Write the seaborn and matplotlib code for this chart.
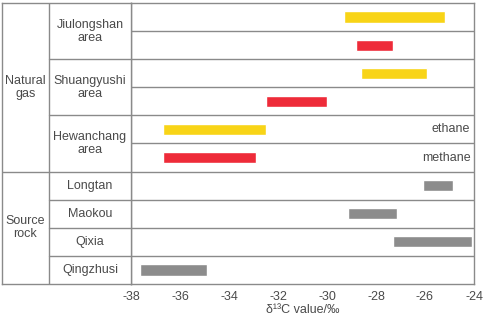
import pandas as pd
import numpy as np
import matplotlib.pyplot as plt
import seaborn as sns

# rows from top to bottom
row_kind = ["ethane", "methane", "ethane", "methane", "ethane", "methane",
            "source", "source", "source", "source"]
row_start = [-29.3, -28.8, -28.6, -32.5, -36.7, -36.7, -26.1, -29.15, -27.3, -37.65]
row_end = [-25.2, -27.3, -25.9, -30.0, -32.5, -32.9, -24.85, -27.15, -24.1, -34.9]

areas = ["Jiulongshan\narea", "Shuangyushi\narea", "Hewanchang\narea"]
rocks = ["Longtan", "Maokou", "Qixia", "Qingzhusi"]
groups = ["Natural\ngas", "Source\nrock"]
xticks = [-38, -36, -34, -32, -30, -28, -26, -24]

colors = {"ethane": "#f8d417", "methane": "#ee2b39", "source": "#8c8c8c"}
line_c = "#8a8a8a"
text_c = "#4a4a4a"

df = pd.DataFrame({"kind": row_kind, "start": row_start, "end": row_end})
df["row"] = np.arange(len(df))

sns.set_theme(style="white")
plt.rcParams["font.family"] = ["Liberation Sans", "DejaVu Sans"]

W, H = 484, 316
fig = plt.figure(figsize=(W / 100, H / 100), dpi=100)
bottom = (H - 284) / H
height = (284 - 3) / H
ax = fig.add_axes([131 / W, bottom, (474 - 131) / W, height])
tab = fig.add_axes([2 / W, bottom, (131 - 2) / W, height])

# floating bars
ax.barh(df["row"], df["end"] - df["start"], left=df["start"], height=0.4,
        color=[colors[k] for k in df["kind"]])
ax.set_xlim(-38, -24)
ax.set_ylim(len(df) - 0.5, -0.5)
ax.set_yticks([])
ax.set_xticks(xticks)
ax.set_xticklabels([str(t) for t in xticks], fontsize=9, color=text_c)
ax.tick_params(axis="x", length=0, pad=5)
for r in range(1, len(df)):
    ax.axhline(r - 0.5, color=line_c, lw=1)
for s in ax.spines.values():
    s.set_color(line_c)
    s.set_linewidth(1)
ax.set_xlabel("δ¹³C value/‰", fontsize=9, color=text_c, labelpad=1)
ax.text(-24.15, 4, "ethane", ha="right", va="center", fontsize=9, color=text_c)
ax.text(-24.15, 5, "methane", ha="right", va="center", fontsize=9, color=text_c)

# left table
tab.set_xlim(0, 129)
tab.set_ylim(len(df) - 0.5, -0.5)
tab.set_xticks([])
tab.set_yticks([])
for s in tab.spines.values():
    s.set_color(line_c)
    s.set_linewidth(1)
tab.axvline(47, color=line_c, lw=1)
tab.axhline(5.5, color=line_c, lw=1)
for r in [1.5, 3.5, 6.5, 7.5, 8.5]:
    tab.plot([47, 129], [r, r], color=line_c, lw=1)
tab.text(23.5, 2.5, groups[0], ha="center", va="center", fontsize=9,
         color=text_c, linespacing=1.1)
tab.text(23.5, 7.5, groups[1], ha="center", va="center", fontsize=9,
         color=text_c, linespacing=1.1)
for i, a in enumerate(areas):
    tab.text(88, 2 * i + 0.5, a, ha="center", va="center", fontsize=9,
             color=text_c, linespacing=1.1)
for i, r in enumerate(rocks):
    tab.text(88, 6 + i, r, ha="center", va="center", fontsize=9, color=text_c)

fig.savefig("out.png", dpi=100)
